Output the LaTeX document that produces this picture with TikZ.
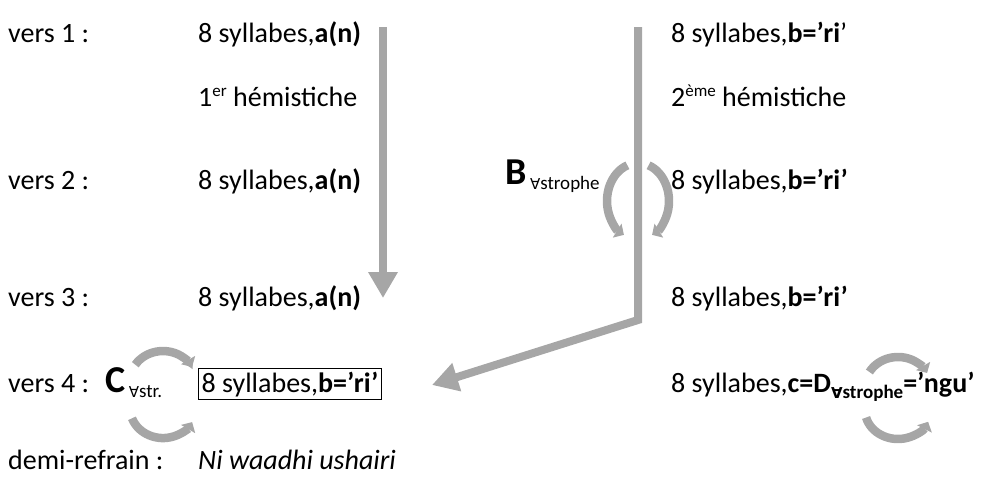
\documentclass[tikz,border=0pt]{standalone}
\usepackage{fontspec}
\setmainfont{Carlito}
\newfontfamily\symfont{DejaVu Sans}
\usetikzlibrary{arrows.meta}
\definecolor{arrgray}{RGB}{166,166,166}
\newcommand{\fa}{{\symfont\fontsize{15}{18}\selectfont ∀}}
\begin{document}
\begin{tikzpicture}[x=1pt,y=-1pt,
  txt/.style={anchor=base west, inner sep=0pt, font=\fontsize{28}{34}\selectfont},
  big/.style={anchor=base west, inner sep=0pt, font=\fontsize{38}{44}\selectfont\bfseries},
  fat/.style={draw=arrgray, line width=8pt, line join=miter, -{Triangle[width=28pt,length=26pt]}},
  curl/.style={draw=arrgray, line width=8.5pt, -{Triangle[width=16pt,length=8pt]}},
]
\useasboundingbox (0,0) rectangle (986,485);
% left column
\node[txt] (l1) at (8,42) {vers 1 :};
\node[txt] (l2) at (8,189) {vers 2 :};
\node[txt] (l3) at (8,306) {vers 3 :};
\node[txt] (l4) at (8,392) {vers 4 :};
\node[txt] (l5) at (8,469) {demi-refrain :};
% middle column
\node[txt] (m1) at (198,42) {8 syllabes,\textbf{a(n)}};
\node[txt] (mh) at (198,106) {1\raisebox{10pt}{\fontsize{17}{20}\selectfont er} hémistiche};
\node[txt] (m2) at (198,189) {8 syllabes,\textbf{a(n)}};
\node[txt] (m3) at (198,306) {8 syllabes,\textbf{a(n)}};
\node[txt, draw, line width=1.3pt, inner sep=3pt] (m4) at (198,392) {8 syllabes,\textbf{b=’ri’}};
\node[txt] (m5) at (198,469) {\itshape Ni waadhi ushairi};
% right column
\node[txt] (r1) at (671,42) {8 syllabes,\textbf{b=’ri}’};
\node[txt] (rh) at (671,106) {2\raisebox{10pt}{\fontsize{17}{20}\selectfont ème} hémistiche};
\node[txt] (r2) at (671,189) {8 syllabes,\textbf{b=’ri’}};
\node[txt] (r3) at (671,306) {8 syllabes,\textbf{b=’ri’}};
\node[txt] (r4) at (671,392) {8 syllabes,\textbf{c=D\raisebox{-6pt}{\fa\fontsize{19}{22}\selectfont strophe}=’ngu’}};
% B and C labels
\node[big] (B) at (505,184) {B};
\node[anchor=base west, inner sep=0pt, font=\fontsize{19}{22}\selectfont] (Bs) at (B.base east) {\,\raisebox{-5pt}{\fa strophe}};
\node[big] (C) at (105,392) {C};
\node[anchor=base west, inner sep=0pt, font=\fontsize{19}{22}\selectfont] (Cs) at (C.base east) {\,\raisebox{-5pt}{\fa str.}};
% big arrows
\coordinate (lt) at (383,27);
\coordinate (lb) at (383,298);
\draw[fat] (lt) -- (lb);
\coordinate (rt) at (638,27);
\coordinate (rc) at (638,320);
\coordinate (rtip) at (432,385);
\draw[fat] (rt) -- (rc) -- (rtip);
% curly arrows around B
\coordinate (bl) at (627.4,165.3);
\coordinate (br) at (648.6,165.3);
\draw[curl] (bl) arc[start angle=250, end angle=117, x radius=31, y radius=38];
\draw[curl] (br) arc[start angle=-70, end angle=63, x radius=31, y radius=38];
% curly arrows around C
\coordinate (ct) at (135.3,364.7);
\coordinate (cb) at (132.0,418.3);
\draw[curl] (ct) arc[start angle=213, end angle=332, x radius=33, y radius=30];
\draw[curl] (cb) arc[start angle=160, end angle=28, x radius=33, y radius=30];
% curly arrows around D
\coordinate (dt) at (869.4,372.0);
\coordinate (db) at (866.1,417.5);
\draw[curl] (dt) arc[start angle=210, end angle=332, x radius=33, y radius=30];
\draw[curl] (db) arc[start angle=165, end angle=24, x radius=33, y radius=29];
\end{tikzpicture}
\end{document}
